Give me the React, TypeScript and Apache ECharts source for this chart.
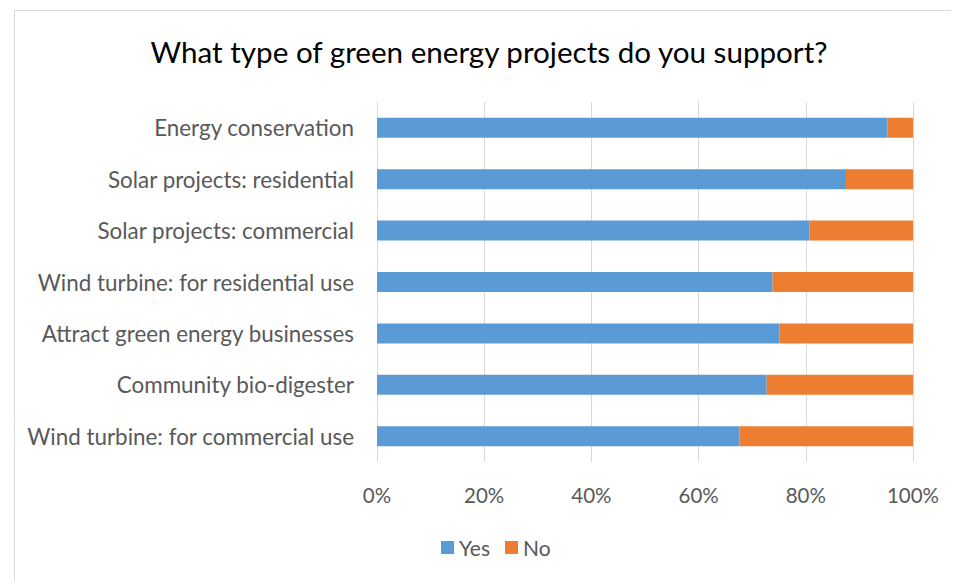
import React, { useEffect, useRef } from "react";
import * as echarts from "echarts";

const categories = [
  "Energy conservation",
  "Solar projects: residential",
  "Solar projects: commercial",
  "Wind turbine: for residential use",
  "Attract green energy businesses",
  "Community bio-digester",
  "Wind turbine: for commercial use",
];
const yesValues = [95.2, 87.5, 80.7, 73.8, 75.1, 72.7, 67.6];
const noValues = [4.8, 12.5, 19.3, 26.2, 24.9, 27.3, 32.4];
const tickLabels = ["0%", "20%", "40%", "60%", "80%", "100%"];

const FONT = "Lato";

export default function App() {
  const ref = useRef<HTMLDivElement>(null);
  useEffect(() => {
    if (!ref.current) return;
    const chart = echarts.init(ref.current, undefined, { renderer: "svg" });
    chart.setOption({
      animation: false,
      backgroundColor: "#ffffff",
      title: {
        text: "What type of green energy projects do you support?",
        left: 476,
        textAlign: "center",
        top: 23,
        textStyle: { fontFamily: FONT, fontSize: 29.6, fontWeight: "normal", color: "#000000" },
      },
      graphic: [
        {
          type: "rect",
          shape: { x: 6.5, y: 2.5, width: 940, height: 580 },
          style: { fill: "none", stroke: "#d9d9d9", lineWidth: 1 },
          silent: true,
        },
      ],
      legend: {
        bottom: 18,
        left: 428,
        itemWidth: 13,
        itemHeight: 13,
        itemGap: 15,
        icon: "rect",
        textStyle: { fontFamily: FONT, fontSize: 21, color: "#595959" },
        data: ["Yes", "No"],
      },
      grid: { left: 369, right: 38, top: 94, bottom: 119 },
      xAxis: {
        type: "value",
        min: 0,
        max: 100,
        interval: 20,
        axisLine: { show: false },
        axisTick: { show: false },
        splitLine: { lineStyle: { color: "#d9d9d9", width: 1 } },
        axisLabel: {
          margin: 22,
          fontFamily: FONT,
          fontSize: 20.5,
          color: "#595959",
          formatter: (v: number) => tickLabels[Math.round(v / 20)],
        },
      },
      yAxis: {
        type: "category",
        data: categories,
        inverse: true,
        axisLine: { show: true, lineStyle: { color: "#d9d9d9" } },
        axisTick: { show: false },
        axisLabel: { margin: 23, fontFamily: FONT, fontSize: 22.4, color: "#595959" },
      },
      series: [
        {
          name: "Yes",
          type: "bar",
          stack: "total",
          data: yesValues,
          barWidth: 20,
          itemStyle: { color: "#5b9bd5" },
        },
        {
          name: "No",
          type: "bar",
          stack: "total",
          data: noValues,
          barWidth: 20,
          itemStyle: { color: "#ed7d31" },
        },
      ],
    });
    return () => chart.dispose();
  }, []);
  return <div ref={ref} style={{ width: 943, height: 573 }} />;
}
